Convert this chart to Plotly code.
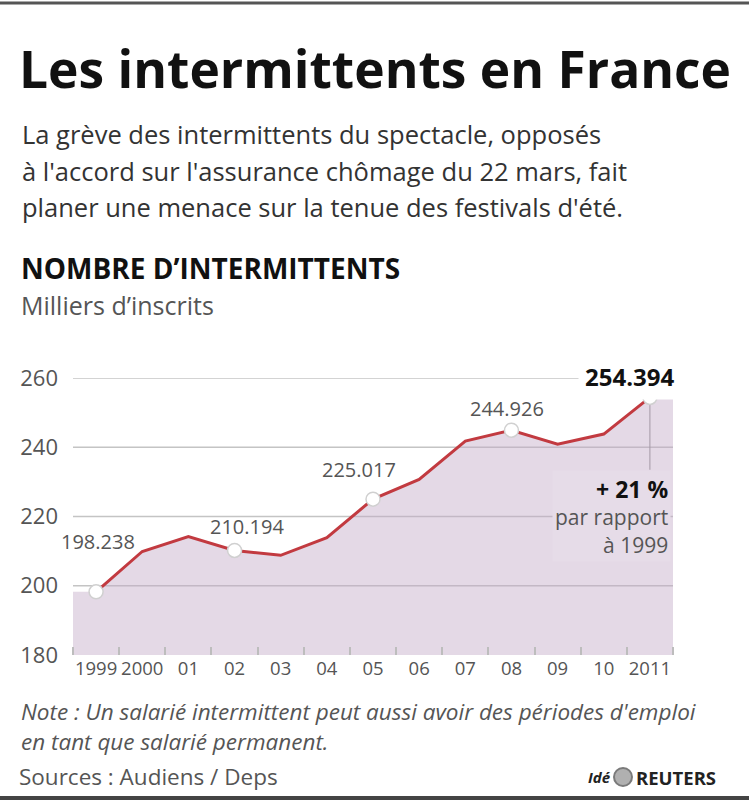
import plotly.graph_objects as go

# ---- data ----
years = [1999, 2000, 2001, 2002, 2003, 2004, 2005, 2006, 2007, 2008, 2009, 2010, 2011]
values = [198.238, 209.9, 214.2, 210.194, 208.8, 213.9, 225.017, 230.7, 241.8, 244.926, 240.9, 243.8, 254.394]
tick_labels = ["1999", "2000", "01", "02", "03", "04", "05", "06", "07", "08", "09", "10", "2011"]
highlight_years = [1999, 2002, 2005, 2008, 2011]
label_texts = ["198.238", "210.194", "225.017", "244.926", "254.394"]
y_ticks = [180, 200, 220, 240, 260]
grid_values = [200, 220, 240, 260]
subtitle_lines = ["La grève des intermittents du spectacle, opposés",
                  "à l'accord sur l'assurance chômage du 22 mars, fait",
                  "planer une menace sur la tenue des festivals d'été."]
note_lines = ["Note : Un salarié intermittent peut aussi avoir des périodes d'emploi",
              "en tant que salarié permanent."]

# ---- layout geometry / styles ----
W, H = 749, 800
ML, MR, MT, MB = 73, 76, 378, 145
PW, PH = W - ML - MR, H - MT - MB
FONT = "Open Sans"
GRAY = "#555555"
LINE_RED = "#c23a40"
FILL = "rgba(196,170,200,0.45)"
FILL_SOLID = "#e6dce8"
# offsets (px) of the value labels relative to their points
label_offsets = [(2, 50), (12, 24), (-14, 30), (-4, 22), (-20, 21)]
subtitle_y = [134, 171, 207]
note_y = [711, 741]


def px_x(p):
    return (p - ML) / PW


def px_y(p):
    return (H - MB - p) / PH


val_by_year = dict(zip(years, values))

fig = go.Figure()

# shaded area extending half a category on each side
fx = [years[0] - 0.5] + years + [years[-1] + 0.5]
fy = [values[0]] + values + [values[-1]]
fig.add_trace(go.Scatter(x=fx, y=fy, mode="lines", line=dict(width=0),
                         fill="tozeroy", fillcolor=FILL, hoverinfo="skip"))
fig.add_trace(go.Scatter(x=years, y=values, mode="lines",
                         line=dict(color=LINE_RED, width=3), hoverinfo="skip"))
fig.add_trace(go.Scatter(x=highlight_years, y=[val_by_year[y] for y in highlight_years],
                         mode="markers", cliponaxis=False,
                         marker=dict(size=14, color="white", line=dict(color="#d0d0d0", width=1.5)),
                         hoverinfo="skip"))

shapes = []
for g in grid_values:
    shapes.append(dict(type="line", xref="paper", yref="y", x0=0, x1=1, y0=g, y1=g,
                       line=dict(color="#c4c4c4", width=1.5), layer="below"))
# leader line below last point
shapes.append(dict(type="line", xref="x", yref="y", x0=years[-1], x1=years[-1],
                   y0=values[-1], y1=233.5, line=dict(color="#8a8a8a", width=1), layer="below"))
# top and bottom frame lines
shapes.append(dict(type="line", xref="paper", yref="paper", x0=px_x(0), x1=px_x(W),
                   y0=px_y(3), y1=px_y(3), line=dict(color="#555555", width=3)))
shapes.append(dict(type="line", xref="paper", yref="paper", x0=px_x(0), x1=px_x(W),
                   y0=px_y(798), y1=px_y(798), line=dict(color="#444444", width=4)))
# logo circle
shapes.append(dict(type="circle", xref="paper", yref="paper", x0=px_x(614), x1=px_x(632),
                   y0=px_y(786), y1=px_y(768), fillcolor="#b0b0b0",
                   line=dict(color="#7a7a7a", width=2)))

ann = []
# value labels
for (yr, txt), (dx, dy) in zip(zip(highlight_years, label_texts), label_offsets):
    last = yr == highlight_years[-1]
    ann.append(dict(x=yr, y=val_by_year[yr], xref="x", yref="y", text=("<b>%s</b>" % txt) if last else txt,
                    showarrow=False, xshift=dx, yshift=dy,
                    font=dict(family=FONT, size=24 if last else 20, color="#111111" if last else GRAY),
                    bgcolor="white" if last else None, borderpad=6 if last else 0))
# +21 % note
ann.append(dict(x=years[-1] + 0.45, y=values[-1], xref="x", yref="y", xanchor="right", yanchor="top",
                yshift=-73, showarrow=False, align="right",
                text="<span style='font-size:23px;color:#111'><b>+ 21 %</b></span><br>par rapport<br>à 1999",
                font=dict(family=FONT, size=21, color=GRAY), bgcolor=FILL_SOLID, borderpad=2))

# title block
ann.append(dict(x=px_x(17), y=px_y(68), xref="paper", yref="paper", xanchor="left", yanchor="middle",
                showarrow=False, text="<b>Les intermittents en France</b>",
                font=dict(family=FONT, size=51.5, color="#111111")))
for line, yy in zip(subtitle_lines, subtitle_y):
    ann.append(dict(x=px_x(20), y=px_y(yy), xref="paper", yref="paper", xanchor="left", yanchor="middle",
                    showarrow=False, text=line, font=dict(family=FONT, size=25.5, color="#333333")))
ann.append(dict(x=px_x(19), y=px_y(268), xref="paper", yref="paper", xanchor="left", yanchor="middle",
                showarrow=False, text="<b>NOMBRE D’INTERMITTENTS</b>",
                font=dict(family=FONT, size=28, color="#111111")))
ann.append(dict(x=px_x(19), y=px_y(305), xref="paper", yref="paper", xanchor="left", yanchor="middle",
                showarrow=False, text="Milliers d’inscrits",
                font=dict(family=FONT, size=25, color=GRAY)))
# footer
for line, yy in zip(note_lines, note_y):
    ann.append(dict(x=px_x(19), y=px_y(yy), xref="paper", yref="paper", xanchor="left", yanchor="middle",
                    showarrow=False, text="<i>%s</i>" % line,
                    font=dict(family=FONT, size=22.5, color=GRAY)))
ann.append(dict(x=px_x(17), y=px_y(776), xref="paper", yref="paper", xanchor="left", yanchor="middle",
                showarrow=False, text="Sources : Audiens / Deps",
                font=dict(family=FONT, size=22.5, color=GRAY)))
ann.append(dict(x=px_x(613), y=px_y(777), xref="paper", yref="paper", xanchor="right", yanchor="middle",
                showarrow=False, text="<b><i>Idé</i></b>",
                font=dict(family=FONT, size=15, color="#222222")))
ann.append(dict(x=px_x(634), y=px_y(777), xref="paper", yref="paper", xanchor="left", yanchor="middle",
                showarrow=False, text="<b>REUTERS</b>",
                font=dict(family=FONT, size=18.5, color="#222222")))

fig.update_layout(
    width=W, height=H,
    margin=dict(l=ML, r=MR, t=MT, b=MB),
    paper_bgcolor="white", plot_bgcolor="white",
    showlegend=False,
    shapes=shapes, annotations=ann,
    font=dict(family=FONT, color=GRAY),
    xaxis=dict(range=[years[0] - 0.5, years[-1] + 0.5], tickvals=years, ticktext=tick_labels,
               tickangle=0, showgrid=False, zeroline=False, showline=False, ticks="",
               tickfont=dict(family=FONT, size=18.5, color=GRAY),
               minor=dict(tick0=years[0] - 0.5, dtick=1, ticks="inside", ticklen=8,
                          tickcolor="#bdbdbd", tickwidth=1.5, showgrid=False)),
    yaxis=dict(range=[y_ticks[0], y_ticks[-1]], tickvals=y_ticks, showgrid=False, zeroline=False,
               showline=False, ticks="", ticklabelstandoff=14,
               tickfont=dict(family=FONT, size=22, color=GRAY)),
)

fig.write_html("out.html")
